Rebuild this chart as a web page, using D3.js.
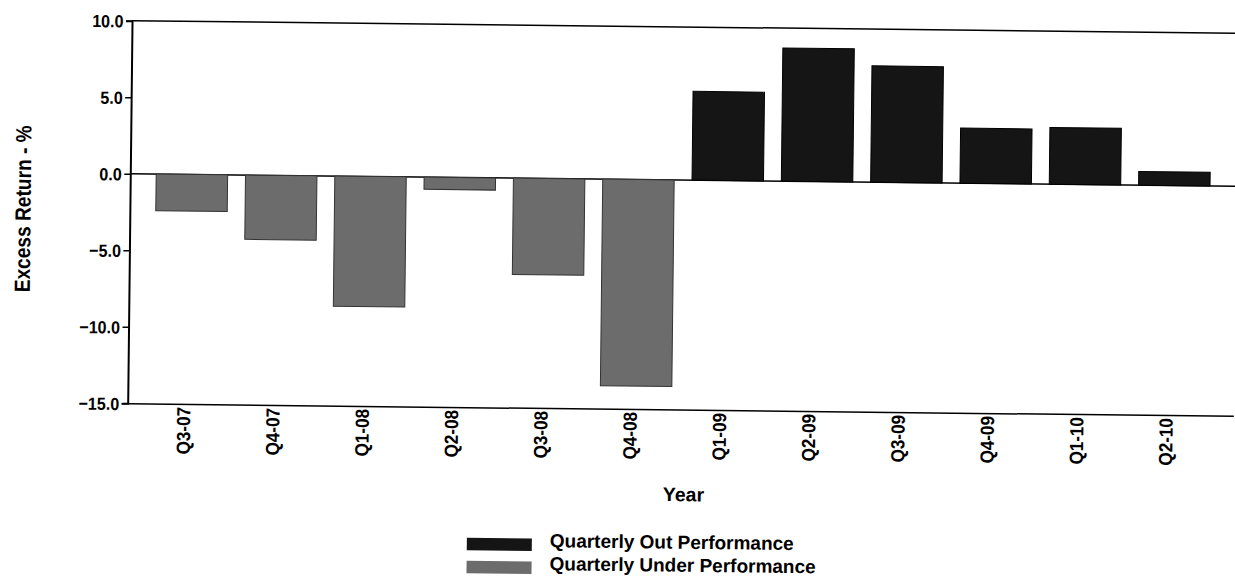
<!DOCTYPE html>
<html>
<head>
<meta charset="utf-8">
<script src="https://cdn.jsdelivr.net/npm/d3@7/dist/d3.min.js"></script>
<style>
  html, body { margin: 0; padding: 0; background: #fff; }
  svg { display: block; font-family: "Liberation Sans", Arial, sans-serif; }
</style>
</head>
<body>
<svg id="chart" width="1235" height="580"></svg>
<script>
// ---- data ----
const quarters = ["Q3-07","Q4-07","Q1-08","Q2-08","Q3-08","Q4-08","Q1-09","Q2-09","Q3-09","Q4-09","Q1-10","Q2-10"];
const excessReturn = [-2.4, -4.2, -8.5, -0.8, -6.3, -13.5, 5.8, 8.7, 7.6, 3.6, 3.7, 0.9];
const yTicks = [10, 5, 0, -5, -10, -15];
const legendLabels = ["Quarterly Out Performance", "Quarterly Under Performance"];
const axisTitles = { x: "Year", y: "Excess Return - %" };

// ---- layout ----
const plotLeft = 130.3, plotRight = 1236, plotTop = 20.7, plotBottom = 403.3;
const outColor = "#151515", underColor = "#6c6c6c";
const FONT = "'Liberation Sans', Arial, sans-serif";

const svg = d3.select("#chart");
const root = svg.append("g").attr("transform", "rotate(0.65, 130, 173)");

const x = d3.scaleBand().domain(quarters).range([plotLeft, plotRight]).paddingInner(0.2).paddingOuter(0.29);
const y = d3.scaleLinear().domain([-15, 10]).range([plotBottom, plotTop]);

// frame: top line
root.append("line")
  .attr("x1", plotLeft).attr("x2", plotRight)
  .attr("y1", y(10)).attr("y2", y(10))
  .attr("stroke", "#000").attr("stroke-width", 1.5);

// zero line
root.append("line")
  .attr("x1", plotLeft).attr("x2", plotRight)
  .attr("y1", y(0)).attr("y2", y(0))
  .attr("stroke", "#000").attr("stroke-width", 1.5);

// bars
root.append("g").selectAll("rect")
  .data(quarters.map((q, i) => ({ q, v: excessReturn[i] })))
  .join("rect")
  .attr("x", d => x(d.q))
  .attr("width", x.bandwidth())
  .attr("y", d => y(Math.max(0, d.v)))
  .attr("height", d => Math.abs(y(d.v) - y(0)))
  .attr("fill", d => d.v >= 0 ? outColor : underColor)
  .attr("stroke", d => d.v >= 0 ? "#000" : "#333")
  .attr("stroke-width", 1);

// y axis
const yAxis = d3.axisLeft(y).tickValues(yTicks).tickFormat(d3.format(".1f")).tickSizeOuter(0).tickSize(6).tickPadding(3);
const gy = root.append("g").attr("transform", `translate(${plotLeft},0)`).call(yAxis);
gy.select(".domain").attr("stroke", "#000").attr("stroke-width", 2);
gy.selectAll(".tick line").attr("stroke", "#000").attr("stroke-width", 1.5);
gy.selectAll(".tick text")
  .attr("font-size", 17.5).attr("font-weight", "bold").attr("fill", "#000")
  .attr("font-family", FONT)
  .attr("x", 0).attr("dy", "0.36em")
  .attr("transform", "translate(-8.5,0) scale(0.92,1)");

// x axis
const xAxis = d3.axisBottom(x).tickSize(0).tickSizeOuter(0).tickPadding(0);
const gx = root.append("g").attr("transform", `translate(0,${plotBottom})`).call(xAxis);
gx.select(".domain").attr("stroke", "#000").attr("stroke-width", 1.5);
gx.selectAll(".tick text")
  .attr("font-size", 19).attr("font-weight", "bold").attr("fill", "#000")
  .attr("font-family", FONT)
  .attr("text-anchor", "end")
  .attr("dy", 0)
  .attr("transform", "translate(1,3) rotate(-90) scale(0.9,1)")
  .attr("x", 0).attr("y", 0);

// axis titles
root.append("text")
  .attr("x", (x.range()[0] + x.range()[1]) / 2 + 4)
  .attr("y", 495)
  .attr("text-anchor", "middle")
  .attr("font-size", 19.5).attr("font-weight", "bold")
  .attr("font-family", FONT)
  .text(axisTitles.x);

root.append("text")
  .attr("transform", "translate(31,210) rotate(-90) scale(0.87,1)")
  .attr("text-anchor", "middle")
  .attr("font-size", 22).attr("font-weight", "bold")
  .attr("font-family", FONT)
  .text(axisTitles.y);

// legend
const legend = root.append("g").attr("transform", "translate(471,534)");
const legendColors = [outColor, underColor];
legendLabels.forEach((lab, i) => {
  const g = legend.append("g").attr("transform", `translate(0,${i * 23})`);
  g.append("rect").attr("x", 0).attr("y", 0).attr("width", 65).attr("height", 12.5)
    .attr("fill", legendColors[i]);
  g.append("text").attr("x", 83).attr("y", 8.5)
    .attr("font-size", 19).attr("font-weight", "bold")
    .attr("font-family", FONT)
    .text(lab);
});
</script>
</body>
</html>
